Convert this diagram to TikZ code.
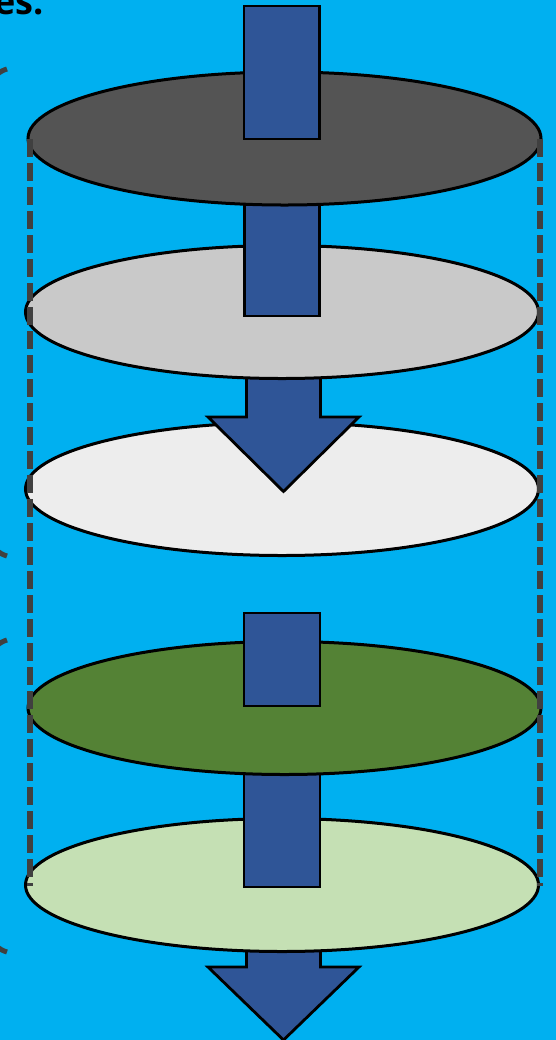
\documentclass[tikz,border=0pt]{standalone}
\usepackage{fontspec}
\newfontfamily\headfont{Open Sans}
\usetikzlibrary{shapes.geometric}
\definecolor{skyblue}{HTML}{00B0F0}
\definecolor{flowblue}{HTML}{2F5597}
\definecolor{guidegray}{HTML}{404040}
\definecolor{darkdisc}{HTML}{545454}
\definecolor{middisc}{HTML}{C9C9C9}
\definecolor{palldisc}{HTML}{EDEDED}
\definecolor{greendisc}{HTML}{548235}
\definecolor{lightgreendisc}{HTML}{C5E0B4}

\begin{document}
\begin{tikzpicture}[
  x=0.5pt, y=-0.5pt,
  every node/.style={inner sep=0pt, outer sep=0pt},
  discnode/.style={ellipse, draw=black, line width=1.5pt, minimum width=256.5pt, minimum height=66.5pt},
  flowbox/.style={fill=flowblue, draw=black, line width=1.4pt, line join=miter},
  guideline/.style={draw=guidegray, line width=3pt, dash pattern=on 9pt off 3pt},
  bracketline/.style={draw=guidegray, line width=2.5pt}
]
\useasboundingbox (0,0) rectangle (556,1040);
\clip (0,0) rectangle (556,1040);
\fill[skyblue] (0,0) rectangle (556,1040);

% heading, cut off at the top
\node[anchor=base east, font=\headfont\bfseries\fontsize{18}{20}\selectfont] (title) at (44,14) {es.};

% brackets at the left edge (mostly outside the picture)
\draw[bracketline] (7,69) .. controls (0,71) and (-8,76) .. (-14,92) -- (-14,533)
  .. controls (-8,549) and (0,554) .. (7,556);
\draw[bracketline] (7,640) .. controls (0,642) and (-8,647) .. (-14,663) -- (-14,929)
  .. controls (-8,945) and (0,950) .. (7,952);

% lower stack
\draw[flowbox] (246.5,940) -- (320.5,940) -- (320.5,967) -- (359,967) -- (283.5,1040)
  -- (208,967) -- (246.5,967) -- cycle;
\node[discnode, fill=lightgreendisc] (disc5) at (282,885) {};
\draw[flowbox] (244,770) rectangle (320,887);
\node[discnode, fill=greendisc] (disc4) at (284.5,708) {};
\draw[flowbox] (244,613) rectangle (320,706);

% upper stack
\node[discnode, fill=palldisc] (disc3) at (282,489) {};
\draw[flowbox] (246.5,370) -- (320.5,370) -- (320.5,417) -- (359,417) -- (283.5,491.5)
  -- (208,417) -- (246.5,417) -- cycle;
\node[discnode, fill=middisc] (disc2) at (282,312) {};
\draw[flowbox] (244.5,150) rectangle (319.5,316);
\node[discnode, fill=darkdisc] (disc1) at (284.5,138.5) {};
\draw[flowbox] (244,6) rectangle (319.5,139);

% dashed sides
\coordinate (lefttop) at (29.5,139);
\coordinate (leftbot) at (29.5,886);
\coordinate (righttop) at (540,139);
\coordinate (rightbot) at (540,886);
\draw[guideline] (lefttop) -- (leftbot);
\draw[guideline] (righttop) -- (rightbot);
\end{tikzpicture}
\end{document}
